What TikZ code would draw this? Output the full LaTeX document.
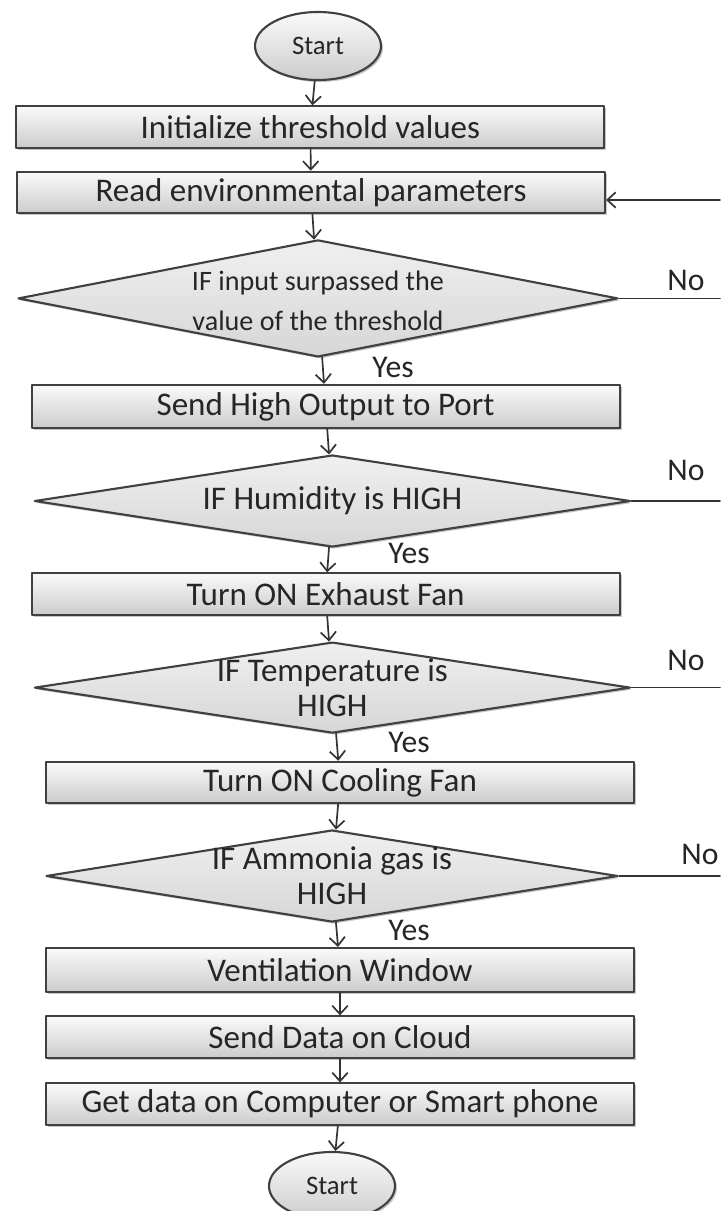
\documentclass[tikz,border=0pt]{standalone}
\usepackage{fontspec}
\setmainfont{Carlito}
\usetikzlibrary{shapes.geometric,arrows.meta,shadows}
\begin{document}
\begin{tikzpicture}[>={Straight Barb[length=6pt,width=11pt]}, line join=round, line cap=round,
  shade/.style={top color=gray!4, bottom color=gray!40},
  shad/.style={drop shadow={shadow xshift=1.4pt,shadow yshift=-1.4pt,opacity=0.45}},
  box/.style={rectangle, draw=black!75, line width=1.5pt, shade, shad,
    minimum width=14.7cm, minimum height=1.03cm, inner sep=0pt,
    text=black!85, font=\fontsize{23.5}{27}\selectfont},
  dec/.style={diamond, draw=black!75, line width=1.5pt, top color=gray!12, bottom color=gray!32, shad,
    inner sep=0pt, minimum width=14.9cm, minimum height=2.3cm},
  dtext/.style={align=center, text=black!85, font=\fontsize{23.5}{25}\selectfont},
  term/.style={ellipse, draw=black!75, line width=1.5pt, shade, shad,
    minimum width=3.15cm, minimum height=1.7cm, inner sep=0pt,
    text=black!85, font=\fontsize{19}{22}\selectfont},
  lbl/.style={text=black!85, font=\fontsize{22.5}{26}\selectfont},
  link/.style={->, line width=1.2pt, draw=black!80},
  line/.style={line width=1.2pt, draw=black!80}]
\useasboundingbox (0,0) rectangle (18,-30.275);
\fill[white] (0,0) rectangle (18,-30.275);
\coordinate (edge) at (18,0);
\coordinate (back) at (18,-5.0);

\node[term] (start) at (7.95,-1.15) {Start};
\node[box] (init) at (7.76,-3.175) {Initialize threshold values};
\node[box] (read) at (7.775,-4.81) {Read environmental parameters};
\node[dec, minimum width=15cm, minimum height=2.925cm] (input) at (7.95,-7.46) {};
\node[dtext, font=\fontsize{20}{28}\selectfont] (inputtxt) at (7.95,-7.52) {IF input surpassed the\\value of the threshold};
\node[box, minimum height=1.075cm] (high) at (8.14,-10.16) {Send High Output to Port};
\node[dec] (hum) at (8.31,-12.525) {};
\node[dtext] (humtxt) at (hum) {IF Humidity is HIGH};
\node[box] (exhaust) at (8.14,-14.85) {Turn ON Exhaust Fan};
\node[dec, minimum height=2.275cm] (temp) at (8.31,-17.19) {};
\node[dtext] (temptxt) at (temp) {IF Temperature is\\HIGH};
\node[box] (cool) at (8.5,-19.56) {Turn ON Cooling Fan};
\node[dec, minimum width=14.3cm] (gas) at (8.3,-21.9) {};
\node[dtext] (gastxt) at (gas) {IF Ammonia gas is\\HIGH};
\node[box, minimum height=1.1cm] (vent) at (8.5,-24.25) {Ventilation Window};
\node[box] (cloud) at (8.5,-25.925) {Send Data on Cloud};
\node[box] (phone) at (8.5,-27.6) {Get data on Computer or Smart phone};
\node[term] (stop) at (8.3,-29.65) {Start};

% Yes / No
\node[lbl] (yes1) at (9.825,-9.175) {Yes};
\node[lbl] (yes2) at (10.225,-13.825) {Yes};
\node[lbl] (yes3) at (10.225,-18.55) {Yes};
\node[lbl] (yes4) at (10.225,-23.25) {Yes};
\node[lbl] (no1) at (17.15,-7.0) {No};
\node[lbl] (no2) at (17.15,-11.75) {No};
\node[lbl] (no3) at (17.15,-16.5) {No};
\node[lbl] (no4) at (17.5,-21.35) {No};

\draw[link] (start) -- (init);
\draw[link] (init) -- (read);
\draw[link] (read) -- (input);
\draw[link] (input) -- (high);
\draw[link] (high) -- (hum);
\draw[link] (hum) -- (exhaust);
\draw[link] (exhaust) -- (temp);
\draw[link] (temp) -- (cool);
\draw[link] (cool) -- (gas);
\draw[link] (gas) -- (vent);
\draw[link] (vent) -- (cloud);
\draw[link] (cloud) -- (phone);
\draw[link] (phone) -- (stop);

\draw[line] (input.east) -- (input.east -| edge);
\draw[line] (hum.east) -- (hum.east -| edge);
\draw[line] (temp.east) -- (temp.east -| edge);
\draw[line] (gas.east) -- (gas.east -| edge);
\draw[link] (back) -- (back -| read.east);
\end{tikzpicture}
\end{document}
